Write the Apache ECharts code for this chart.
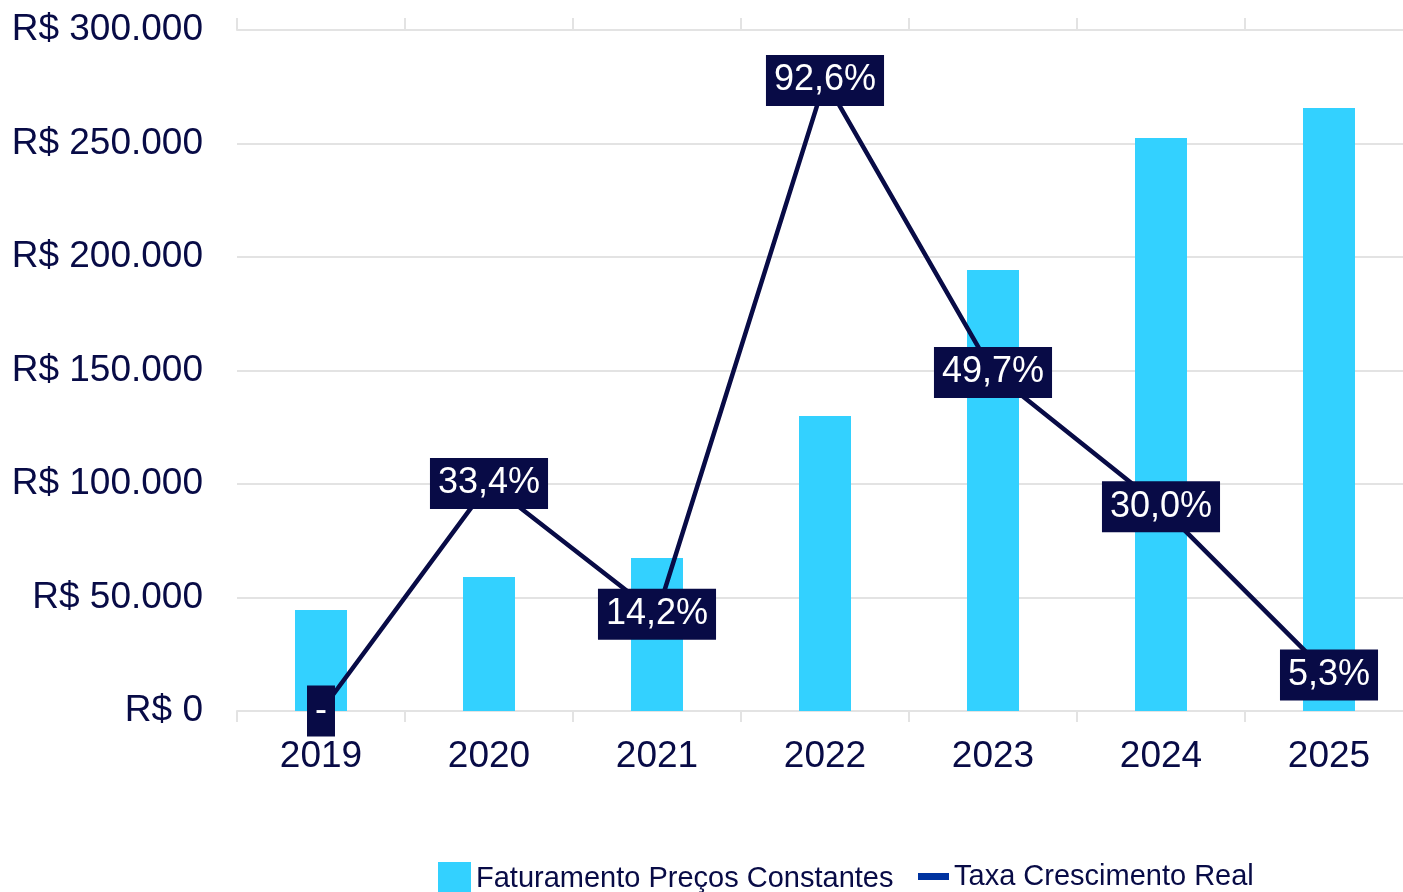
<!DOCTYPE html>
<html>
<head>
<meta charset="utf-8">
<script src="https://cdn.jsdelivr.net/npm/echarts@6/dist/echarts.min.js"></script>
<style>
  html, body { margin: 0; padding: 0; background: #fff; }
  #chart { width: 1403px; height: 892px; }
</style>
</head>
<body>
<div id="chart"></div>
<script>
var years = ['2019', '2020', '2021', '2022', '2023', '2024', '2025'];
var faturamento = [44500, 59000, 67400, 130000, 194300, 252400, 265600];
var crescimento = [0, 33.4, 14.2, 92.6, 49.7, 30.0, 5.3];

var navy = '#080b46';
var gridGray = '#e3e3e3';
var fontFam = '"Liberation Sans", Arial, sans-serif';

var chart = echarts.init(document.getElementById('chart'));

function fmtMoney(v) {
    return 'R$ ' + String(v).replace(/\B(?=(\d{3})+(?!\d))/g, '.');
}

var option = {
    animation: false,
    textStyle: { fontFamily: fontFam },
    grid: {
        left: 237,
        width: 1176,
        top: 30,
        bottom: 181,
        outerBoundsMode: 'none'
    },
    legend: [{
        data: ['Faturamento Preços Constantes'],
        left: 438,
        top: 862,
        padding: 0,
        itemWidth: 33,
        itemHeight: 33,
        icon: 'rect',
        textStyle: { color: navy, fontSize: 29, fontFamily: fontFam }
    }, {
        data: [{ name: 'Taxa Crescimento Real', itemStyle: { color: '#0033a0' } }],
        left: 918,
        top: 862,
        padding: 0,
        itemWidth: 31,
        itemHeight: 33,
        icon: 'path://M0,13 L31,13 L31,20 L0,20 Z',
        textStyle: { color: navy, fontSize: 29, fontFamily: fontFam }
    }],
    xAxis: [{
        type: 'category',
        data: years,
        position: 'bottom',
        axisLine: { onZero: false, lineStyle: { color: gridGray, width: 2 } },
        axisTick: { show: true, length: 11, lineStyle: { color: gridGray, width: 2 } },
        axisLabel: { color: navy, fontSize: 37, margin: 27, fontFamily: fontFam }
    }, {
        type: 'category',
        data: years,
        position: 'top',
        axisLine: { onZero: false, lineStyle: { color: gridGray, width: 2 } },
        axisTick: { show: true, length: 12, lineStyle: { color: gridGray, width: 2 } },
        axisLabel: { show: false }
    }],
    yAxis: [{
        type: 'value',
        min: 0,
        max: 300000,
        interval: 50000,
        axisLine: { show: false },
        axisTick: { show: false },
        splitLine: { lineStyle: { color: gridGray, width: 2 } },
        axisLabel: {
            color: navy,
            fontSize: 37,
            margin: 34,
            fontFamily: fontFam,
            formatter: fmtMoney
        }
    }, {
        type: 'value',
        min: 0,
        max: 100,
        show: false,
        splitLine: { show: false }
    }],
    series: [{
        name: 'Faturamento Preços Constantes',
        type: 'bar',
        data: faturamento,
        barWidth: 52,
        itemStyle: { color: '#33d1ff' }
    }, {
        name: 'Taxa Crescimento Real',
        type: 'line',
        yAxisIndex: 1,
        data: crescimento,
        symbol: 'circle',
        symbolSize: 1,
        showSymbol: true,
        lineStyle: { color: navy, width: 4.5 },
        itemStyle: { color: navy },
        label: {
            show: true,
            position: 'inside',
            color: '#fff',
            fontSize: 36,
            fontFamily: fontFam,
            backgroundColor: navy,
            padding: [9, 8, 6, 8],
            formatter: function (p) {
                if (p.value === 0) return '-';
                return p.value.toFixed(1).replace('.', ',') + '%';
            }
        }
    }]
};

chart.setOption(option);
</script>
</body>
</html>
